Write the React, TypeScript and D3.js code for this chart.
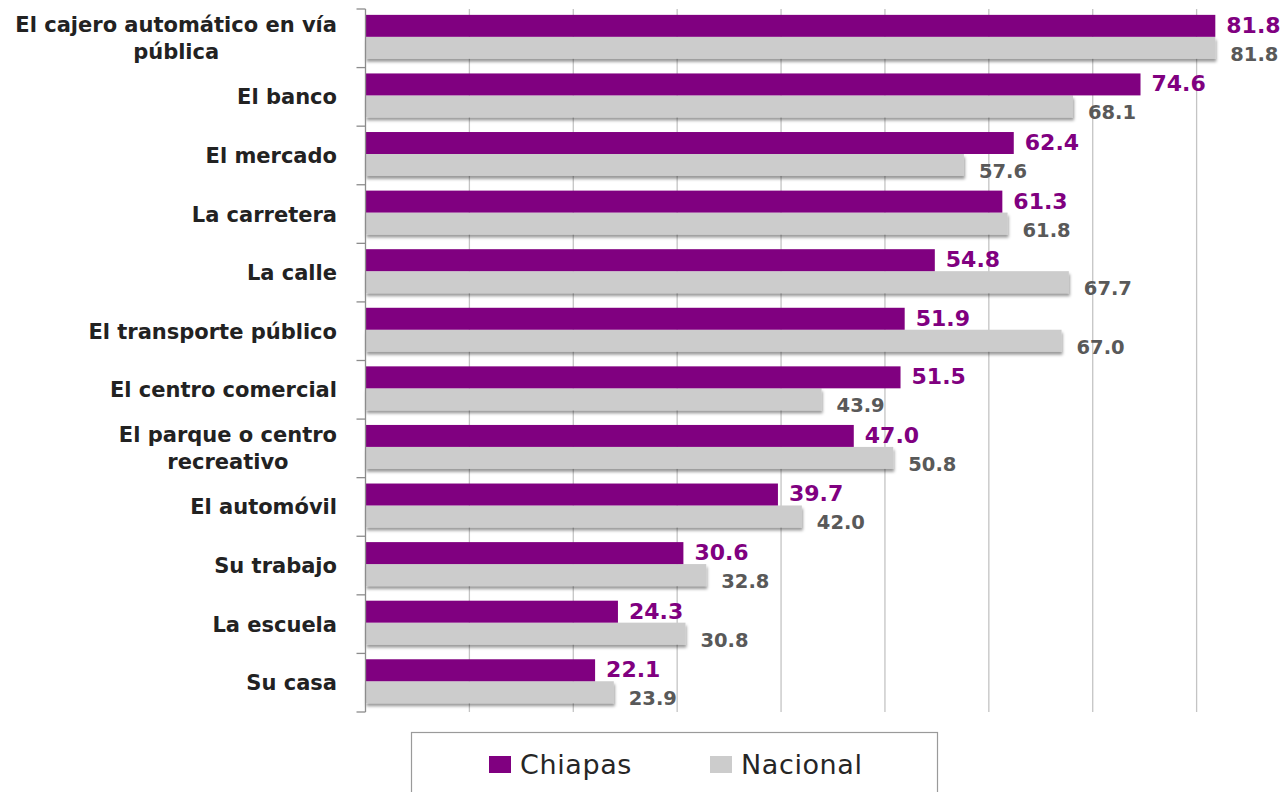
import React, { useEffect, useRef } from "react";
import * as d3 from "d3";

const categories: string[] = [
  "El cajero automático en vía\npública",
  "El banco",
  "El mercado",
  "La carretera",
  "La calle",
  "El transporte  público",
  "El centro comercial",
  "El parque o centro\nrecreativo",
  "El automóvil",
  "Su trabajo",
  "La escuela",
  "Su casa",
];
const seriesNames: string[] = ["Chiapas", "Nacional"];
const chiapas: number[] = [81.8, 74.6, 62.4, 61.3, 54.8, 51.9, 51.5, 47.0, 39.7, 30.6, 24.3, 22.1];
const nacional: number[] = [81.8, 68.1, 57.6, 61.8, 67.7, 67.0, 43.9, 50.8, 42.0, 32.8, 30.8, 23.9];
const xTicks: number[] = [0, 10, 20, 30, 40, 50, 60, 70, 80, 90];

const W = 1286;
const H = 792;
const PURPLE = "#800080";
const GRAY = "#cccccc";
const FONT = "'DejaVu Sans', Verdana, sans-serif";

export default function App() {
  const ref = useRef<SVGSVGElement | null>(null);

  useEffect(() => {
    const svg = d3.select(ref.current);
    svg.selectAll("*").remove();

    const x = d3.scaleLinear().domain([0, 90]).range([365.5, 1300.5]);
    const y = d3.scaleBand<string>().domain(categories).range([9, 712]).paddingInner(0).paddingOuter(0);
    const bw = y.bandwidth();
    const inner = d3.scaleBand<string>().domain(seriesNames).range([bw * 0.1, bw * 0.85]);

    const defs = svg.append("defs");
    const f = defs.append("filter").attr("id", "shadow").attr("x", "-5%").attr("y", "-20%").attr("width", "110%").attr("height", "170%");
    f.append("feDropShadow").attr("dx", 1).attr("dy", 3).attr("stdDeviation", 1.8).attr("flood-color", "#000").attr("flood-opacity", 0.4);

    // gridlines
    svg.append("g")
      .selectAll("line")
      .data(xTicks.filter((t) => t > 0))
      .join("line")
      .attr("x1", (d) => x(d))
      .attr("x2", (d) => x(d))
      .attr("y1", 9)
      .attr("y2", 712)
      .attr("stroke", "#c4c4c4")
      .attr("stroke-width", 1.3);

    // bars
    const data = categories.map((c, i) => ({ c, vals: [chiapas[i], nacional[i]] }));
    const gCat = svg.append("g").selectAll("g").data(data).join("g")
      .attr("transform", (d) => `translate(0,${y(d.c)})`);

    gCat.append("rect")
      .attr("x", x(0))
      .attr("y", inner("Nacional")!)
      .attr("width", (d) => x(d.vals[1]) - x(0))
      .attr("height", inner.bandwidth())
      .attr("fill", GRAY)
      .attr("filter", "url(#shadow)");
    gCat.append("rect")
      .attr("x", x(0))
      .attr("y", inner("Chiapas")!)
      .attr("width", (d) => x(d.vals[0]) - x(0))
      .attr("height", inner.bandwidth())
      .attr("fill", PURPLE);

    // value labels
    gCat.append("text")
      .attr("x", (d) => x(d.vals[0]) + 11)
      .attr("y", inner("Chiapas")! + inner.bandwidth() - 4)
      .attr("font-family", FONT)
      .attr("font-weight", "bold")
      .attr("font-size", 22)
      .attr("fill", PURPLE)
      .text((d) => d3.format(".1f")(d.vals[0]));
    gCat.append("text")
      .attr("x", (d) => x(d.vals[1]) + 15)
      .attr("y", inner("Nacional")! + inner.bandwidth() + 2)
      .attr("font-family", FONT)
      .attr("font-weight", "bold")
      .attr("font-size", 19.5)
      .attr("fill", "#595959")
      .text((d) => d3.format(".1f")(d.vals[1]));

    // left axis
    const ax = svg.append("g");
    ax.append("line")
      .attr("x1", x(0)).attr("x2", x(0)).attr("y1", 9).attr("y2", 712)
      .attr("stroke", "#8c8c8c").attr("stroke-width", 1.3);
    const bounds = categories.map((c) => y(c)!).concat([712]);
    ax.selectAll("line.tick").data(bounds).join("line")
      .attr("class", "tick")
      .attr("x1", x(0) - 9).attr("x2", x(0))
      .attr("y1", (d) => d).attr("y2", (d) => d)
      .attr("stroke", "#8c8c8c").attr("stroke-width", 1.3);

    // category labels
    const labelRight = 337;
    const lineH = 27;
    categories.forEach((c) => {
      const lines = c.split("\n");
      const cy = y(c)! + bw / 2;
      const t = svg.append("text")
        .attr("font-family", FONT)
        .attr("font-weight", "bold")
        .attr("font-size", 21)
        .attr("fill", "#222222");
      const spans = lines.map((ln, i) =>
        t.append("tspan")
          .attr("y", cy + 7.5 + (i - (lines.length - 1) / 2) * lineH)
          .text(ln)
      );
      let maxW = 0;
      spans.forEach((s) => {
        const w = (s.node() as SVGTSpanElement).getComputedTextLength();
        if (w > maxW) maxW = w;
      });
      t.attr("text-anchor", "middle");
      spans.forEach((s) => s.attr("x", labelRight - maxW / 2));
    });

    // legend
    const lg = svg.append("g");
    lg.append("rect")
      .attr("x", 411.5).attr("y", 732.5).attr("width", 526).attr("height", 80)
      .attr("fill", "#fff").attr("stroke", "#9a9a9a").attr("stroke-width", 1.2);
    const items = [
      { name: seriesNames[0], color: PURPLE, x: 489 },
      { name: seriesNames[1], color: GRAY, x: 710 },
    ];
    items.forEach((it) => {
      lg.append("rect").attr("x", it.x).attr("y", 756).attr("width", 22).attr("height", 17).attr("fill", it.color);
      lg.append("text")
        .attr("x", it.x + 31).attr("y", 774)
        .attr("font-family", FONT)
        .attr("font-size", 27)
        .attr("letter-spacing", 0.6)
        .attr("fill", "#262626")
        .text(it.name);
    });
  }, []);

  return (
    <svg
      ref={ref}
      width={W}
      height={H}
      style={{ position: "absolute", left: 0, top: 0, background: "#fff" }}
    />
  );
}
